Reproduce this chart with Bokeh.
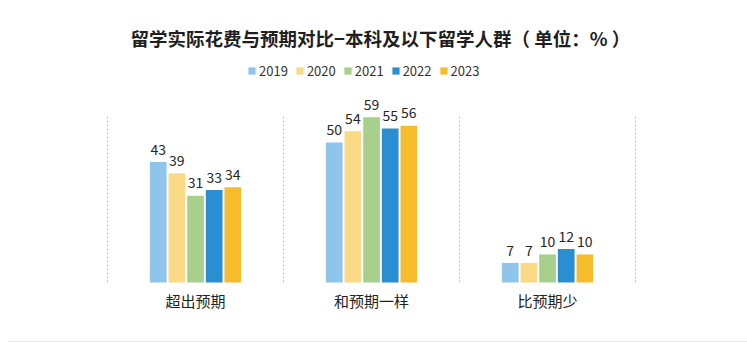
from bokeh.plotting import figure
from bokeh.models import ColumnDataSource, Legend, LegendItem, Range1d
from bokeh.core.properties import value
from bokeh.embed import file_html
from bokeh.resources import INLINE

title_text = "留学实际花费与预期对比−本科及以下留学人群（ 单位：% ）"
categories = ["超出预期", "和预期一样", "比预期少"]
years = ["2019", "2020", "2021", "2022", "2023"]
v2019 = [43, 50, 7]
v2020 = [39, 54, 7]
v2021 = [31, 59, 10]
v2022 = [33, 55, 12]
v2023 = [34, 56, 10]
series = [v2019, v2020, v2021, v2022, v2023]
colors = ["#8EC5E8", "#FADA85", "#A8D08D", "#2A8FD0", "#F5BC2B"]

FONT = "Noto Sans CJK SC"

p = figure(width=747, height=343, output_backend="svg", toolbar_location=None,
           x_range=Range1d(-1.108, 3.136), y_range=Range1d(-21.79, 100.71),
           min_border=0, min_border_left=0, min_border_right=0,
           min_border_top=0, min_border_bottom=0)
p.axis.visible = False
p.grid.visible = False
p.outline_line_color = None
p.background_fill_color = "white"
p.border_fill_color = "white"

# dashed separators between categories
n = len(categories)
sep_x = [i - 0.5 for i in range(n + 1)]
p.segment(x0=sep_x, y0=[0] * len(sep_x), x1=sep_x, y1=[60] * len(sep_x),
          line_color="#BDBDBD", line_dash="2 2", line_width=1)

slot = 0.106
bw = 0.095
items = []
for k, (yr, vals, c) in enumerate(zip(years, series, colors)):
    xs = [i + (k - 2) * slot for i in range(n)]
    src = ColumnDataSource(dict(x=xs, top=vals, lab=[str(v) for v in vals],
                                ly=[v + 2.6 for v in vals]))
    r = p.vbar(x="x", top="top", bottom=0, width=bw, source=src,
               fill_color=c, line_color=None)
    p.text(x="x", y="ly", text="lab", source=src, text_align="center",
           text_baseline="bottom", text_font=value(FONT),
           text_font_size="14px", text_color="#262626")
    items.append(LegendItem(label=yr, renderers=[r]))

# category labels
p.text(x=list(range(n)), y=[-6.6] * n, text=categories, text_align="center",
       text_baseline="middle", text_font=value(FONT), text_font_size="15px",
       text_color="#222222")

# title
p.text(x=[1.05], y=[87.3], text=[title_text], text_align="center",
       text_baseline="middle", text_font=value(FONT), text_font_size="18.5px",
       text_font_style="bold", text_color="#1F1F1F")

# bottom rule
p.segment(x0=[-1.06], y0=[-21.1], x1=[3.2], y1=[-21.1],
          line_color="#E6E6E6", line_width=1)

legend = Legend(items=items, orientation="horizontal", location=(247, 263),
                label_text_font=FONT, label_text_font_size="13px",
                label_text_color="#333333", glyph_width=9, glyph_height=9,
                label_standoff=3, spacing=7, padding=0, margin=0,
                border_line_color=None, background_fill_alpha=0)
p.add_layout(legend, "center")

open("out.html", "w").write(file_html(p, INLINE))
